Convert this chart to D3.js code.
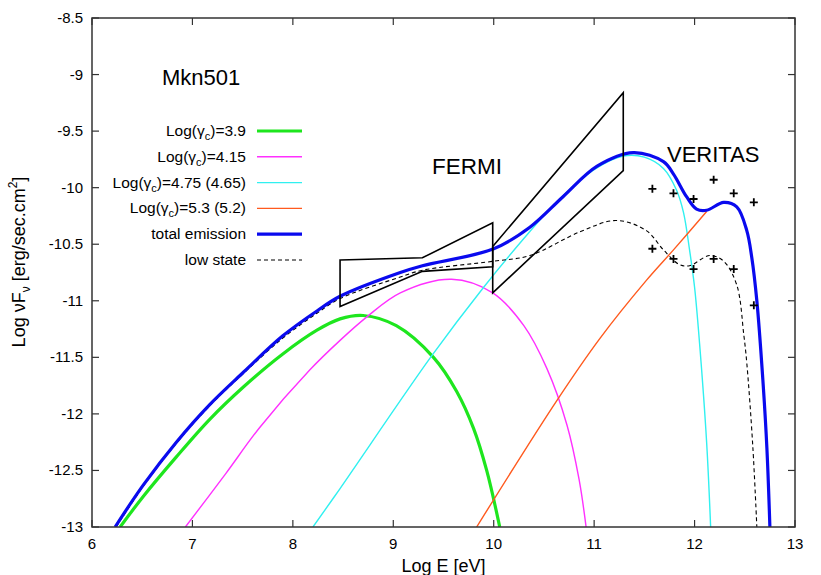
<!DOCTYPE html>
<html>
<head>
<meta charset="utf-8">
<script src="https://cdn.jsdelivr.net/npm/d3@7"></script>
<style>
  body { margin: 0; background: #fff; }
  svg { font-family: "Liberation Sans", Arial, Helvetica, sans-serif; }
</style>
</head>
<body>
<div id="chart"></div>
<script>
// tick values
var xTicks = [6, 7, 8, 9, 10, 11, 12, 13];
var yTicks = [-13, -12.5, -12, -11.5, -11, -10.5, -10, -9.5, -9, -8.5];

// model curves [log E, log nuFnu]
var green = [[6.28,-13],[6.51,-12.73],[6.84,-12.38],[7.17,-12.05],[7.51,-11.76],[7.9,-11.47],[8.24,-11.26],
  [8.47,-11.16],[8.7,-11.13],[9.03,-11.22],[9.4,-11.5],[9.63,-11.8],[9.8,-12.13],[9.93,-12.5],[10.06,-13]];
var magenta = [[6.93,-13],[7.33,-12.53],[7.67,-12.12],[8.17,-11.61],[8.47,-11.35],[8.74,-11.14],[9.07,-10.93],
  [9.58,-10.81],[9.99,-10.93],[10.3,-11.22],[10.53,-11.6],[10.73,-12.1],[10.85,-12.58],[10.92,-13]];
var cyan = [[8.2,-13],[8.47,-12.66],[9.38,-11.49],[9.9,-10.88],[10.3,-10.45],[10.6,-10.15],[11.0,-9.84],
  [11.29,-9.72],[11.5,-9.73],[11.69,-9.83],[11.82,-10.02],[11.89,-10.22],[11.95,-10.55],[12.0,-10.88],
  [12.05,-11.38],[12.12,-12.25],[12.16,-13]];
var orange = [[9.83,-13],[10.63,-11.88],[11.06,-11.33],[11.52,-10.82],[11.79,-10.55],[12.12,-10.21]];
var total = [[6.23,-13],[6.51,-12.63],[6.84,-12.25],[7.17,-11.92],[7.51,-11.63],[7.9,-11.31],[8.24,-11.09],
  [8.47,-10.96],[9.07,-10.75],[9.29,-10.69],[10.0,-10.54],[10.36,-10.35],[10.69,-10.08],[11.03,-9.81],
  [11.39,-9.69],[11.69,-9.77],[11.79,-9.88],[11.92,-10.08],[12.02,-10.19],[12.12,-10.2],[12.29,-10.13],
  [12.42,-10.17],[12.52,-10.38],[12.57,-10.62],[12.62,-11.0],[12.68,-11.7],[12.72,-12.3],[12.75,-13]];
var lowState = [[6.24,-13],[6.51,-12.64],[6.84,-12.26],[7.17,-11.93],[7.51,-11.64],[7.9,-11.33],[8.24,-11.11],
  [8.47,-10.98],[9.07,-10.79],[9.29,-10.73],[10.0,-10.65],[10.36,-10.6],[10.86,-10.39],[11.22,-10.29],
  [11.52,-10.38],[11.69,-10.55],[11.85,-10.68],[11.95,-10.69],[12.15,-10.6],[12.29,-10.65],[12.42,-10.86],
  [12.49,-11.3],[12.52,-11.55],[12.58,-12.29],[12.62,-13]];

// Fermi butterflies
var fermiLow = [[8.47,-10.64],[9.29,-10.62],[9.99,-10.31],[9.99,-10.70],[9.29,-10.74],[8.47,-11.05]];
var fermiHigh = [[9.99,-10.52],[11.29,-9.16],[11.29,-9.85],[9.99,-10.93]];

// VERITAS points
var veritasHigh = [[11.58,-10.01],[11.79,-10.05],[11.99,-10.1],[12.19,-9.93],[12.39,-10.05],[12.59,-10.13]];
var veritasLow = [[11.58,-10.54],[11.79,-10.63],[11.99,-10.72],[12.19,-10.63],[12.39,-10.72],[12.59,-11.04]];

var legendLabels = [
  {pre: "Log(\u03B3", sub: "c", post: ")=3.9"},
  {pre: "Log(\u03B3", sub: "c", post: ")=4.15"},
  {pre: "Log(\u03B3", sub: "c", post: ")=4.75 (4.65)"},
  {pre: "Log(\u03B3", sub: "c", post: ")=5.3 (5.2)"},
  {pre: "total emission"},
  {pre: "low state"}
];

var width = 821, height = 575;
var mLeft = 92, mRight = 795, mTop = 18, mBottom = 527;

var x = d3.scaleLinear().domain([6, 13]).range([mLeft, mRight]);
var y = d3.scaleLinear().domain([-13, -8.5]).range([mBottom, mTop]);

var svg = d3.select('#chart').append('svg')
  .attr('width', width)
  .attr('height', height);

svg.append('defs').append('clipPath').attr('id', 'clip')
  .append('rect')
    .attr('x', mLeft).attr('y', mTop)
    .attr('width', mRight - mLeft).attr('height', mBottom - mTop);

var line = d3.line()
  .x(function(d) { return x(d[0]); })
  .y(function(d) { return y(d[1]); })
  .curve(d3.curveCatmullRom.alpha(0.5));

var styles = {
  green:   {color: '#1ee61e', w: 3.2},
  magenta: {color: '#ff30ff', w: 1.4},
  cyan:    {color: '#30f0f0', w: 1.4},
  orange:  {color: '#ff5a1e', w: 1.4},
  total:   {color: '#0a0aee', w: 3.2},
  low:     {color: '#000', w: 1.1, dash: '4,3'}
};

// drawing order: low state under the total emission
var series = [
  {data: green, s: styles.green},
  {data: magenta, s: styles.magenta},
  {data: cyan, s: styles.cyan},
  {data: orange, s: styles.orange},
  {data: lowState, s: styles.low},
  {data: total, s: styles.total}
];
var legendStyles = [styles.green, styles.magenta, styles.cyan, styles.orange, styles.total, styles.low];

var plot = svg.append('g').attr('clip-path', 'url(#clip)');

plot.selectAll('path.curve')
  .data(series)
  .enter().append('path')
    .attr('class', 'curve')
    .attr('d', function(d) { return line(d.data); })
    .attr('fill', 'none')
    .attr('stroke', function(d) { return d.s.color; })
    .attr('stroke-width', function(d) { return d.s.w; })
    .attr('stroke-dasharray', function(d) { return d.s.dash || null; });

// butterflies
var poly = d3.line()
  .x(function(d) { return x(d[0]); })
  .y(function(d) { return y(d[1]); });

svg.selectAll('path.bowtie')
  .data([fermiLow, fermiHigh])
  .enter().append('path')
    .attr('class', 'bowtie')
    .attr('d', function(d) { return poly(d) + 'Z'; })
    .attr('fill', 'none')
    .attr('stroke', '#000')
    .attr('stroke-width', 1.6)
    .attr('stroke-linejoin', 'miter');

// crosses
var pts = veritasHigh.concat(veritasLow);
svg.append('g').selectAll('path.pt')
  .data(pts)
  .enter().append('path')
    .attr('class', 'pt')
    .attr('d', function(d) {
      var cx = x(d[0]), cy = y(d[1]), s = 4;
      return 'M' + (cx - s) + ',' + cy + 'H' + (cx + s) + 'M' + cx + ',' + (cy - s) + 'V' + (cy + s);
    })
    .attr('stroke', '#000')
    .attr('stroke-width', 1.8);

// frame and ticks
var axisColor = '#333';
svg.append('rect')
  .attr('x', mLeft).attr('y', mTop)
  .attr('width', mRight - mLeft).attr('height', mBottom - mTop)
  .attr('fill', 'none')
  .attr('stroke', axisColor)
  .attr('stroke-width', 1.5);

var tk = 7;
var ticks = svg.append('g').attr('stroke', axisColor).attr('stroke-width', 1.2);
xTicks.forEach(function(t) {
  ticks.append('line').attr('x1', x(t)).attr('x2', x(t)).attr('y1', mBottom).attr('y2', mBottom - tk);
  ticks.append('line').attr('x1', x(t)).attr('x2', x(t)).attr('y1', mTop).attr('y2', mTop + tk);
});
yTicks.forEach(function(t) {
  ticks.append('line').attr('y1', y(t)).attr('y2', y(t)).attr('x1', mLeft).attr('x2', mLeft + tk);
  ticks.append('line').attr('y1', y(t)).attr('y2', y(t)).attr('x1', mRight).attr('x2', mRight - tk);
});

svg.append('g').selectAll('text')
  .data(xTicks)
  .enter().append('text')
    .attr('x', function(d) { return x(d); })
    .attr('y', mBottom + 22)
    .attr('text-anchor', 'middle')
    .attr('font-size', 15)
    .text(function(d) { return d; });

svg.append('g').selectAll('text')
  .data(yTicks)
  .enter().append('text')
    .attr('x', mLeft - 9)
    .attr('y', function(d) { return y(d) + 5; })
    .attr('text-anchor', 'end')
    .attr('font-size', 15)
    .text(function(d) { return d; });

// axis titles
svg.append('text')
  .attr('x', (mLeft + mRight) / 2)
  .attr('y', 572)
  .attr('text-anchor', 'middle')
  .attr('font-size', 18)
  .text('Log E [eV]');

var yl = svg.append('text')
  .attr('transform', 'translate(25,262) rotate(-90)')
  .attr('text-anchor', 'middle')
  .attr('font-size', 18);
yl.append('tspan').text('Log \u03BDF');
yl.append('tspan').attr('font-size', 12).attr('dy', 5).text('\u03BD');
yl.append('tspan').attr('dy', -5).text(' [erg/sec.cm');
yl.append('tspan').attr('font-size', 12).attr('dy', -8).text('2');
yl.append('tspan').attr('dy', 8).text(']');

// labels
svg.append('text').attr('x', 162).attr('y', 85).attr('font-size', 22).text('Mkn501');
svg.append('text').attr('x', 432).attr('y', 174).attr('font-size', 22.5).text('FERMI');
svg.append('text').attr('x', 667).attr('y', 162).attr('font-size', 22).text('VERITAS');

// legend
var legendY0 = 131, legendDy = 25.8;
var lg = svg.append('g').selectAll('g')
  .data(legendLabels)
  .enter().append('g')
    .attr('transform', function(d, i) { return 'translate(0,' + (legendY0 + i * legendDy) + ')'; });

lg.each(function(d, i) {
  var t = d3.select(this).append('text')
    .attr('x', 246).attr('y', 5)
    .attr('text-anchor', 'end')
    .attr('font-size', 15.5);
  t.append('tspan').text(d.pre);
  if (d.sub) {
    t.append('tspan').attr('font-size', 11).attr('dy', 4).text(d.sub);
    t.append('tspan').attr('dy', -4).text(d.post);
  }
  var s = legendStyles[i];
  d3.select(this).append('line')
    .attr('x1', 257).attr('x2', 302).attr('y1', 0).attr('y2', 0)
    .attr('stroke', s.color)
    .attr('stroke-width', s.w)
    .attr('stroke-dasharray', s.dash || null);
});
</script>
</body>
</html>
